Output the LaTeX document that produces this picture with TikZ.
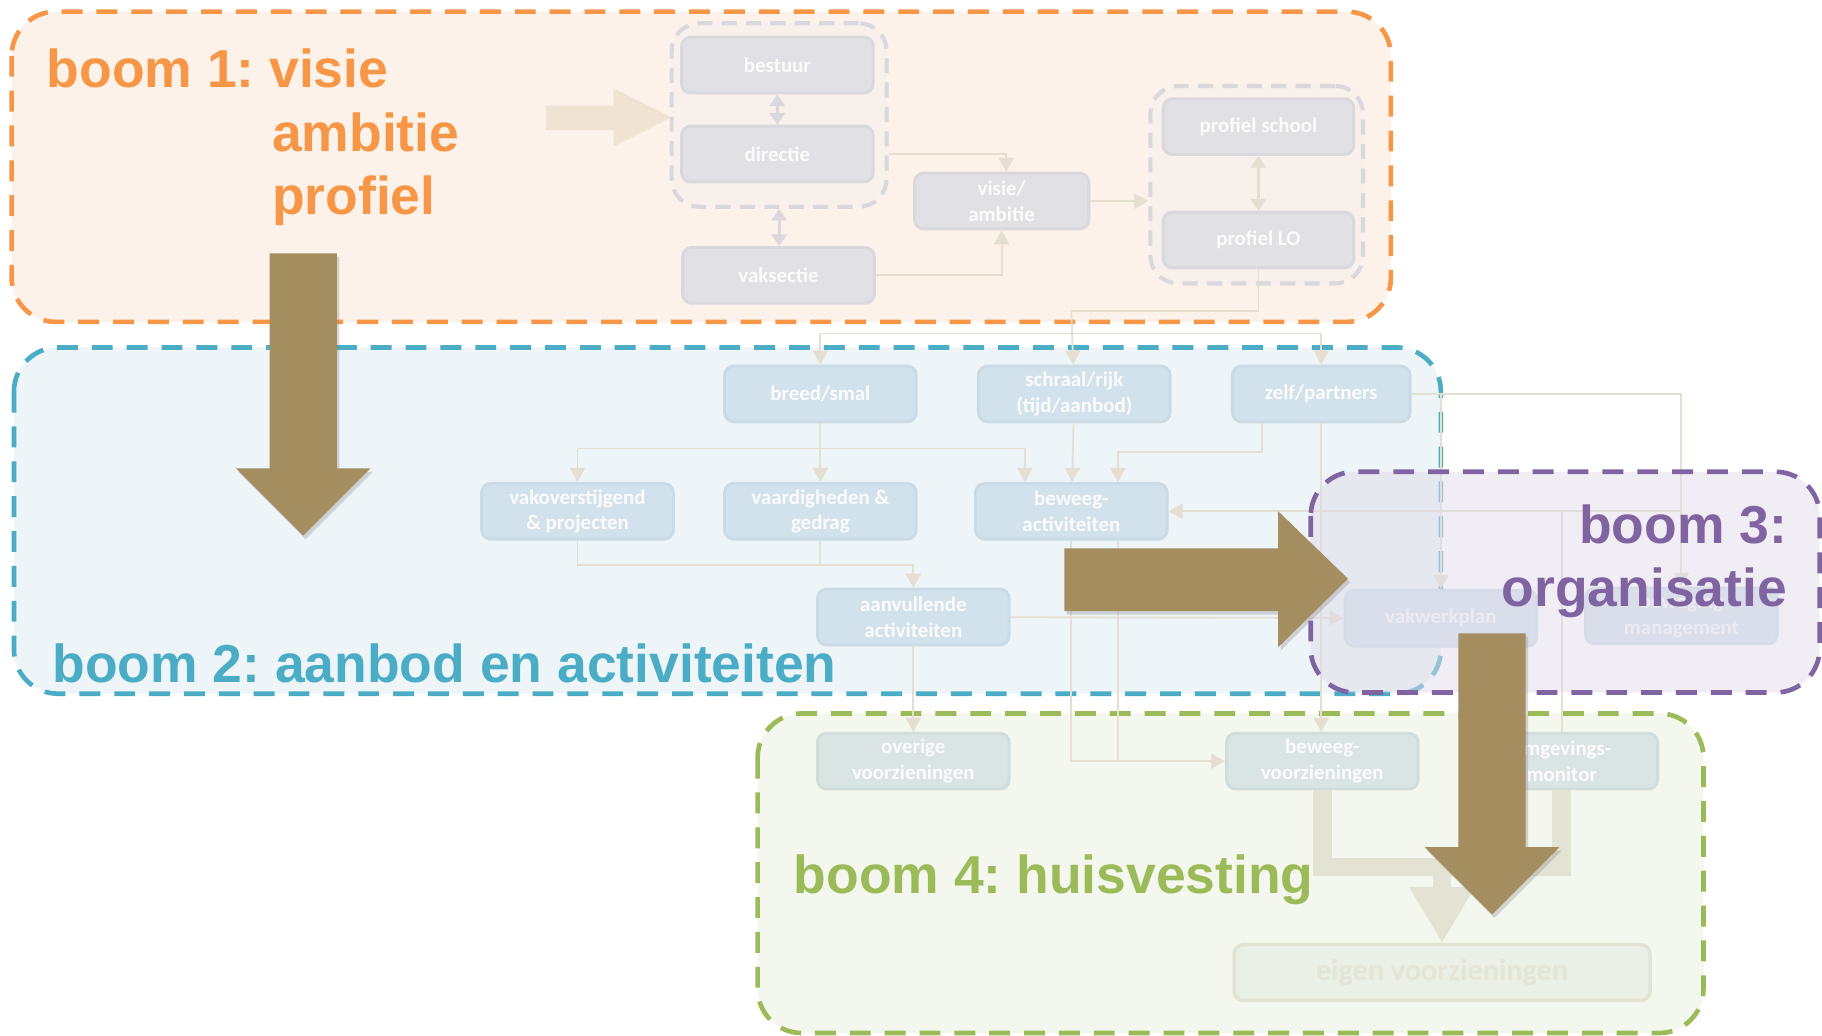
\documentclass[tikz,border=0pt]{standalone}
\usepackage{fontspec}
\setmainfont{Liberation Sans}
\newfontfamily\blokfont{Carlito}
\usepackage{tikz}
\usetikzlibrary{calc,arrows.meta,positioning,shadows}
\frenchspacing

\definecolor{oranje}{HTML}{F79646}
\definecolor{oranjevul}{HTML}{FDF2EA}
\definecolor{blauw}{HTML}{4BACC6}
\definecolor{blauwvul}{HTML}{EDF5F8}
\definecolor{paars}{HTML}{8064A2}
\definecolor{paarsvul}{HTML}{E1DCE9}
\definecolor{groen}{HTML}{9BBB59}
\definecolor{groenvul}{HTML}{F4F7EE}
\definecolor{bruin}{HTML}{A48D5E}
\definecolor{grijsvul}{HTML}{E1E0E4}
\definecolor{grijsrand}{HTML}{D9D8DC}
\definecolor{groepvul}{HTML}{F8F0EB}
\definecolor{blauwblok}{HTML}{D2E2EC}
\definecolor{blauwrand}{HTML}{CADBE6}
\definecolor{groenblok}{HTML}{D9E4E3}
\definecolor{groenrand}{HTML}{D1DDDB}
\definecolor{eigenvul}{HTML}{EBF0E6}
\definecolor{lijnkleur}{HTML}{E4DFD1}
\definecolor{dikkleur}{HTML}{E3E3D4}
\definecolor{vaag}{HTML}{F0E3D3}

\tikzset{
    every node/.append style={font=\blokfont\bfseries\fontsize{18}{22}\selectfont, text=white!97!gray, align=center},
    boom/.style={rounded corners=38pt, dash pattern=on 18pt off 12pt, line width=4pt},
    blok/.style={rounded corners=8pt, minimum width=165pt, minimum height=48pt, line width=2.5pt, inner sep=2pt},
    grijs/.style={blok, fill=grijsvul, draw=grijsrand},
    blauwb/.style={blok, fill=blauwblok, draw=blauwrand},
    groenb/.style={blok, fill=groenblok, draw=groenrand},
    groep/.style={draw=grijsrand, fill=groepvul, line width=3.5pt, dash pattern=on 13pt off 8pt, rounded corners=24pt},
    lijn/.style={draw=lijnkleur, line width=1.6pt},
    pijl/.style={lijn, -{Triangle[width=13pt,length=12pt]}},
    dubbel/.style={line width=2.5pt, {Triangle[width=13pt,length=10pt]}-{Triangle[width=13pt,length=10pt]}},
    dik/.style={draw=dikkleur, line width=16pt, line join=miter},
    grotepijl/.style={fill=bruin, drop shadow={shadow xshift=2pt, shadow yshift=-3pt, opacity=0.3}},
    titel/.style={anchor=base west, inner sep=0pt, font=\fontsize{46}{50}\selectfont\bfseries}
}

\begin{document}
\begin{tikzpicture}[x=1pt,y=-1pt]
    \useasboundingbox (0,0) rectangle (1568,891);

    \path[boom, fill=oranjevul, draw=oranje] (10,10) rectangle (1197,277);
    \path[boom, fill=blauwvul, draw=blauw] (12,299) rectangle (1240,597);
    \path[boom, fill=groenvul, draw=groen] (652,614) rectangle (1466,889);

    % boom 1
    \fill[vaag] (470,91) -- (528,91) -- (528,76) -- (578,101) -- (528,126) -- (528,112) -- (470,112) -- cycle;
    \node[groep, minimum width=185pt, minimum height=158pt] (grp1) at (670.5,99) {};
    \node[groep, minimum width=183pt, minimum height=170pt] (grp2) at (1081.5,159) {};
    \node[grijs] (bestuur) at (669,56) {bestuur};
    \node[grijs, below=26pt of bestuur] (directie) {directie};
    \node[grijs] (vaksectie) at (670,237) {vaksectie};
    \node[grijs, minimum width=150pt] (visie) at (862,173) {visie/\\ambitie};
    \node[grijs, minimum width=164pt] (profschool) at (1083,109) {profiel school};
    \node[grijs, minimum width=164pt, below=47pt of profschool] (proflo) {profiel LO};

    \draw[dubbel, draw=grijsrand] (bestuur) -- (directie);
    \draw[dubbel, draw=grijsrand] (grp1.south) -- (grp1.south |- vaksectie.north);
    \draw[pijl] (directie.east -| grp1.east) -| ([xshift=4pt]visie.north);
    \draw[pijl] (vaksectie) -| (visie.south);
    \draw[pijl] (visie) -- (visie -| grp2.west);
    \draw[dubbel, draw=lijnkleur] (profschool) -- (proflo);

    % boom 2
    \node[blauwb] (breed) at (706,339) {breed/smal};
    \node[blauwb, right=51pt of breed] (schraal) {schraal/rijk\\(tijd/aanbod)};
    \node[blauwb, minimum width=153pt] (zelf) at (1137,339) {zelf/partners};
    \node[blauwb] (vakover) at (497,440) {vakoverstijgend\\\& projecten};
    \node[blauwb] (vaardig) at (706,440) {vaardigheden \&\\gedrag};
    \node[blauwb] (beweegact) at (922,440) {beweeg-\\activiteiten};
    \node[blauwb] (aanvul) at (786,531) {aanvullende\\activiteiten};
    \node[blauwb] (vakwerk) at (1240,532) {vakwerkplan};
    \node[blauwb] (mgmt) at (1447,530) {beweging\\management};

    \coordinate (knik) at (922,268);
    \coordinate (verdeel) at (922,287);
    \coordinate (tak) at (0,386);
    \coordinate (samen) at (0,486);
    \draw[lijn] (proflo) |- (knik);
    \draw[pijl] (knik) -- (schraal);
    \draw[lijn] (verdeel -| breed) -- (verdeel -| zelf);
    \draw[pijl] (verdeel -| breed) -- (breed);
    \draw[pijl] (verdeel -| zelf) -- (zelf);
    \draw[pijl] (breed) -- (vaardig);
    \draw[pijl] (tak -| vakover) -- (vakover);
    \draw[pijl] (tak -| vakover) -| ([xshift=-40pt]beweegact.north);
    \draw[pijl] (schraal) -- (beweegact);
    \draw[pijl] ([xshift=-51pt]zelf.south) -- ++(0,25) -| ([xshift=40pt]beweegact.north);
    \draw[pijl] (zelf) -| (mgmt);
    \draw[pijl] (zelf -| vakwerk) -- (vakwerk);
    \draw[pijl] (mgmt |- beweegact) -- (beweegact);
    \draw[pijl] (vakover) |- (samen -| aanvul) -- (aanvul);
    \draw[lijn] (vaardig) -- (vaardig |- samen);
    \draw[pijl] (aanvul) -- (vakwerk);

    % boom 4
    \node[groenb] (overige) at (786,655) {overige\\voorzieningen};
    \node[groenb] (beweegvz) at (1138,655) {beweeg-\\voorzieningen};
    \node[groenb] (omgeving) at (1344,655) {omgevings-\\monitor};
    \node[blok, minimum width=358pt, line width=3pt, fill=eigenvul, draw=dikkleur, text=dikkleur!80!eigenvul, font=\blokfont\bfseries\fontsize{26}{30}\selectfont] (eigen) at (1241,837) {eigen voorzieningen};

    \coordinate (band) at (1241,746);
    \draw[pijl] (zelf.south) -- (zelf.south |- beweegvz.north);
    \draw[lijn] (omgeving |- beweegact) -- (omgeving);
    \draw[pijl] (aanvul) -- (overige);
    \draw[pijl] (beweegact) |- (beweegvz);
    \draw[lijn] ([xshift=40pt]beweegact.south) -- ([xshift=40pt]beweegact.south |- beweegvz);
    \draw[dik] (beweegvz.south) |- (band -| omgeving) -- (omgeving.south);
    \draw[dik, -{Triangle[width=53pt,length=48pt]}] (band) -- (eigen.north);

    % boom 3
    \fill[paarsvul, opacity=0.5, rounded corners=38pt] (1128,406) rectangle (1566,596);
    \path[boom, draw=paars] (1128,406) rectangle (1566,596);

    \fill[grotepijl] (232,218) -- (290,218) -- (290,403) -- (319,403) -- (261,461) -- (203,403) -- (232,403) -- cycle;
    \fill[grotepijl] (916,472) -- (1100,472) -- (1100,440) -- (1160,498) -- (1100,557) -- (1100,526) -- (916,526) -- cycle;
    \fill[grotepijl] (1255,545) -- (1313,545) -- (1313,729) -- (1342,729) -- (1284,787) -- (1226,729) -- (1255,729) -- cycle;

    \node[titel, text=oranje] (titel1) at (40,75) {boom 1: visie};
    \node[titel, text=oranje] (titel1b) at (234,130) {ambitie};
    \node[titel, text=oranje] (titel1c) at (234,185) {profiel};
    \node[titel, text=blauw] (titel2) at (45,587) {boom 2: aanbod en activiteiten};
    \node[titel, text=paars, anchor=base east] (titel3) at (1538,468) {boom 3:};
    \node[titel, text=paars, anchor=base east] (titel3b) at (1538,522) {organisatie};
    \node[titel, text=groen] (titel4) at (683,769) {boom 4: huisvesting};
\end{tikzpicture}
\end{document}
